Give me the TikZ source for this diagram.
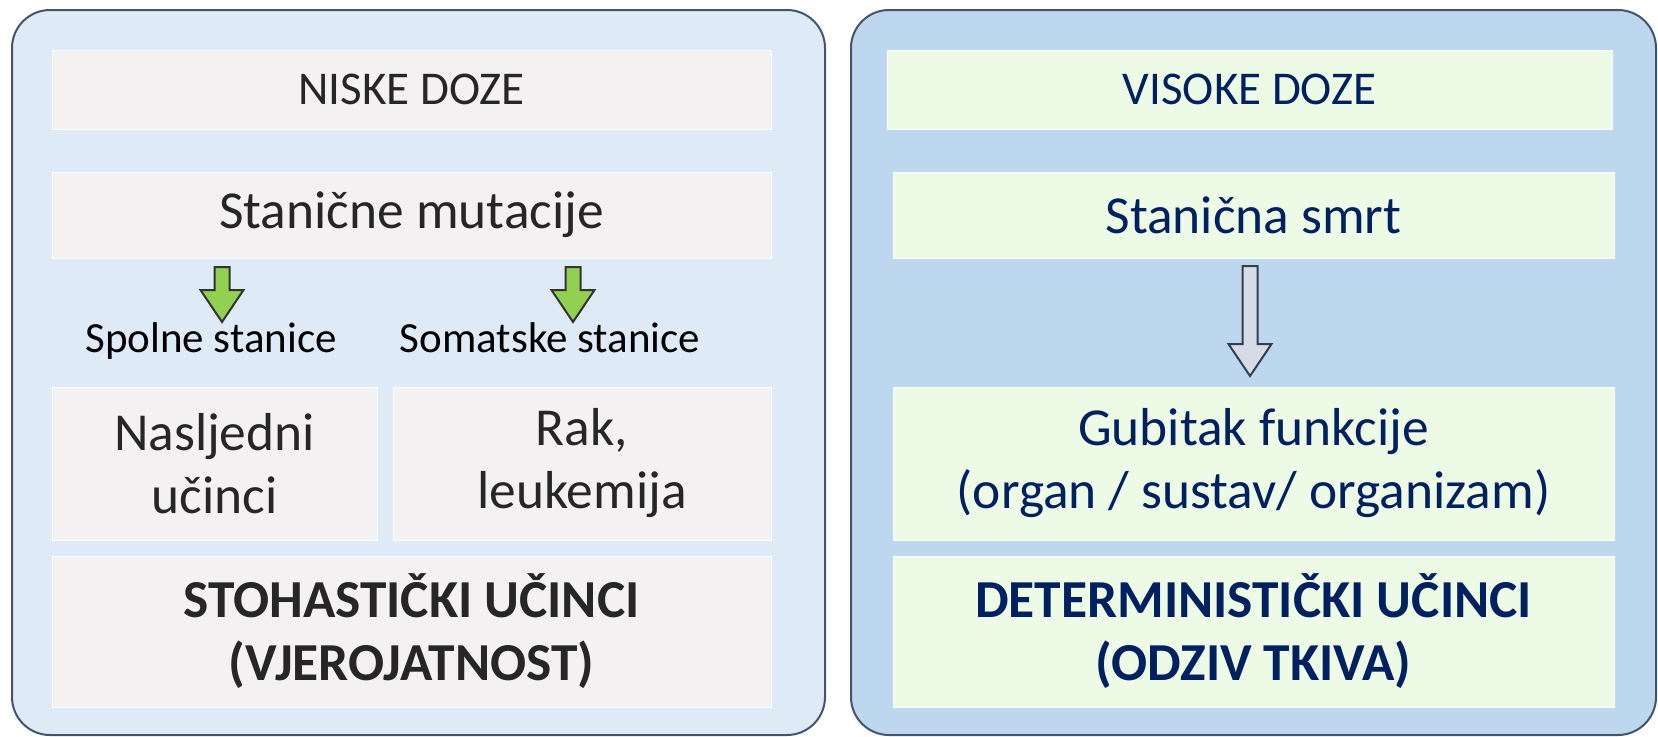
\documentclass[tikz,border=0pt]{standalone}
\usepackage{fontspec}
\setmainfont{Carlito}
\usetikzlibrary{calc,positioning}
\definecolor{lowpanel}{RGB}{222,235,247}
\definecolor{highpanel}{RGB}{189,215,238}
\definecolor{panelline}{RGB}{68,84,106}
\definecolor{lowcell}{RGB}{243,241,242}
\definecolor{highcell}{RGB}{237,250,229}
\definecolor{lowtext}{RGB}{38,38,38}
\definecolor{hightext}{RGB}{0,32,96}
\definecolor{arrowgreen}{RGB}{146,208,80}
\definecolor{arrowgrey}{RGB}{214,220,229}
\definecolor{arrowline}{RGB}{51,63,80}
\tikzset{
  panel/.style={draw=panelline, line width=1pt, rounded corners=19pt, inner sep=0pt},
  cell/.style={
    draw=white,
    line width=0.4pt,
    align=center,
    inner sep=0pt,
    outer sep=0pt,
    font=\fontsize{26.7}{31.5}\selectfont
  },
  lowbox/.style={cell, fill=lowcell, text=lowtext},
  highbox/.style={cell, fill=highcell, text=hightext},
  headfont/.style={font=\fontsize{23.5}{28}\selectfont},
  sidelabel/.style={font=\fontsize{21.5}{26}\selectfont, inner sep=0pt, anchor=base},
  greenarrow/.style={fill=arrowgreen, draw=black!80, line width=1pt},
  greyarrow/.style={fill=arrowgrey, draw=arrowline, line width=1pt}
}
% block arrow pointing down from #2 to #3
\newcommand{\blockarrow}[3]{%
  \draw[#1] let \p1=(#2), \p2=(#3) in
    (\x1-3.75pt,\y1) -- (\x1+3.75pt,\y1) -- (\x1+3.75pt,\y2+16pt)
    -- (\x1+10.75pt,\y2+16pt) -- (\x2,\y2) -- (\x1-10.75pt,\y2+16pt)
    -- (\x1-3.75pt,\y2+16pt) -- cycle;}

\begin{document}
\begin{tikzpicture}[x=0.5pt, y=-0.5pt]
  \useasboundingbox (0,0) rectangle (1658,736);

  % panels
  \node[panel, fill=lowpanel, minimum width=406.5pt, minimum height=362.5pt] (lowside) at (418.5,372.5) {};
  \node[panel, fill=highpanel, minimum width=402.5pt, minimum height=362.5pt] (highside) at (1253.5,372.5) {};

  % low doses
  \node[lowbox, headfont, minimum width=359.5pt, minimum height=39.5pt] (niske) at (411.5,89.5) {NISKE DOZE};
  \node[lowbox, below=21.5pt of niske, minimum width=359.5pt, minimum height=43pt] (mut) {Stanične mutacije};
  \node[lowbox, below=64.5pt of mut.south west, anchor=north west, minimum width=162.5pt, minimum height=76.5pt] (nasl) {Nasljedni\\učinci};
  \node[lowbox, right=8pt of nasl, minimum width=189pt, minimum height=76.5pt] (rak) {Rak,\\leukemija};
  \node[lowbox, below=8pt of nasl.south west, anchor=north west, minimum width=359.5pt, minimum height=75.5pt] (stoh) {\bfseries STOHASTIČKI UČINCI\\\bfseries (VJEROJATNOST)};

  \node[sidelabel] (spol) at (211,352) {Spolne stanice};
  \node[sidelabel] (soma) at (550,352) {Somatske stanice};

  \coordinate (spoltop) at (222,267);
  \coordinate (spoltip) at (222,322);
  \coordinate (somatop) at (573,267);
  \coordinate (somatip) at (573,322);
  \blockarrow{greenarrow}{spoltop}{spoltip}
  \blockarrow{greenarrow}{somatop}{somatip}

  % high doses
  \node[highbox, headfont, minimum width=362.5pt, minimum height=39.5pt] (visoke) at (1249.5,89.5) {VISOKE DOZE};
  \node[highbox, minimum width=360.5pt, minimum height=43pt] (smrt) at (1253.5,215) {Stanična smrt};
  \node[highbox, below=64.5pt of smrt, minimum width=360.5pt, minimum height=76.5pt] (gub) {Gubitak funkcije\\(organ / sustav/ organizam)};
  \node[highbox, below=8pt of gub, minimum width=360.5pt, minimum height=75.5pt] (det) {\bfseries DETERMINISTIČKI UČINCI\\\bfseries (ODZIV TKIVA)};

  \coordinate (smrttop) at (1250,266);
  \coordinate (smrttip) at (1250,376);
  \blockarrow{greyarrow}{smrttop}{smrttip}

\end{tikzpicture}
\end{document}
